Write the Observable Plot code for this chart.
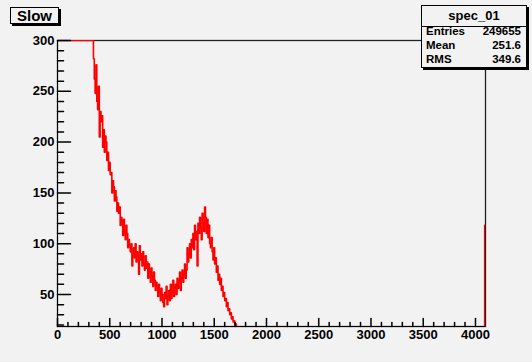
<!DOCTYPE html>
<html>
<head>
<meta charset="utf-8">
<script src="https://cdn.jsdelivr.net/npm/d3@7"></script>
<script src="https://cdn.jsdelivr.net/npm/@observablehq/plot@0.6"></script>
<style>
  html, body { margin: 0; padding: 0; background: #f2f2f2; }
  #canvas {
    position: relative; width: 532px; height: 362px; overflow: hidden;
    font-family: "Liberation Sans", Arial, Helvetica, sans-serif; font-weight: bold;
  }
  #canvas svg { position: absolute; left: 0; top: 0; }
  .pave {
    position: absolute; box-sizing: border-box; background: #f2f2f2;
    border: 1px solid #000; box-shadow: 2px 2px 0 #000; color: #000;
  }
  #title { left: 10px; top: 7px; width: 49px; height: 17px;
    font-size: 15px; line-height: 15px; text-align: center; }
  #stats { left: 421px; top: 5px; width: 106px; height: 63px; }
  #stats .head { position: absolute; left: 0; right: 0; top: 0; height: 20px;
    border-bottom: 1px solid #000; font-size: 13px; line-height: 19px; text-align: center; }
  #stats .row { position: absolute; left: 4px; right: 5px; height: 14px;
    font-size: 11.5px; line-height: 14px; }
  #stats .row span:last-child { position: absolute; right: 0; }
</style>
</head>
<body>
<div id="canvas">
  <div class="pave" id="title">Slow</div>
  <div class="pave" id="stats">
    <div class="head">spec_01</div>
    <div class="row" style="top:18px"><span>Entries</span><span>249655</span></div>
    <div class="row" style="top:31.5px"><span>Mean</span><span>251.6</span></div>
    <div class="row" style="top:46px"><span>RMS</span><span>349.6</span></div>
  </div>
</div>
<script>
// Histogram spec_01: 8-channel bins over 0..4096
const binWidth = 8;

// Bins 0..336: counts above the displayed range
const headStart = 0;
const headCounts = [
  9800, 11200, 10400, 9700, 9100, 8600, 8200, 7800, 7400, 7000,
  6700, 6400, 6100, 5800, 5500, 5200, 4900, 4600, 4300, 4000,
  3700, 3400, 3100, 2800, 2500, 2250, 2000, 1780, 1570, 1380,
  1200, 1040, 900, 780, 680, 600, 530, 470, 420, 380, 350, 320
];

// Bins 336..1768: falling edge, valley and the peak near 1400
const peakStart = 336;
const peakCounts = [
  305, 282, 262, 248, 276, 240, 232, 255, 205, 230,
  220, 226, 195, 212, 190, 206, 200, 182, 190, 172,
  180, 168, 170, 150, 162, 156, 142, 152, 146, 132,
  140, 130, 136, 118, 126, 122, 108, 124, 112, 104,
  118, 110, 96, 104, 98, 92, 100, 78, 90, 96,
  86, 100, 82, 92, 88, 70, 98, 84, 90, 78,
  92, 80, 74, 88, 76, 82, 66, 80, 72, 62,
  76, 68, 58, 72, 64, 54, 62, 58, 48, 60,
  52, 44, 56, 50, 42, 38, 52, 46, 58, 40,
  48, 54, 44, 60, 46, 52, 64, 48, 56, 60,
  50, 66, 56, 62, 72, 54, 66, 74, 62, 70,
  80, 66, 74, 96, 82, 90, 100, 86, 104, 96,
  110, 94, 118, 104, 112, 78, 120, 110, 126, 116,
  104, 130, 120, 112, 136, 126, 110, 124, 106, 118,
  100, 96, 106, 92, 84, 96, 80, 86, 72, 78,
  64, 70, 60, 66, 54, 58, 48, 52, 44, 46,
  38, 42, 34, 36, 30, 32, 26, 28, 23, 24,
  20, 21, 18, 17, 15, 14, 13, 11, 10
];

// Flat tail up to the last channel, then the last channel itself
const tailRange = [1768, 4088];
const tailCount = 3;
const lastRange = [4088, 4096];
const lastCount = 118;

// Axis ranges and ticks
const xRange = [0, 4096];
const yRange = [18.5, 300];
const xTickLabels = [0, 500, 1000, 1500, 2000, 2500, 3000, 3500, 4000];
const xMinorTicks = d3.range(0, 4001, 100).filter(v => v % 500 !== 0);
const yTickLabels = [50, 100, 150, 200, 250, 300];
const yMinorTicks = d3.range(20, 300, 10).filter(v => v % 50 !== 0);

// Step outline: each bin contributes its left and right edge at its count
const bins = [];
headCounts.forEach((c, i) => bins.push([headStart + i * binWidth, headStart + (i + 1) * binWidth, c]));
peakCounts.forEach((c, i) => bins.push([peakStart + i * binWidth, peakStart + (i + 1) * binWidth, c]));
bins.push([tailRange[0], tailRange[1], tailCount]);
bins.push([lastRange[0], lastRange[1], lastCount]);
const outline = bins.flatMap(([x0, x1, c]) => [{x: x0, count: c}, {x: x1, count: c}]);

const tickShape = {draw(context, l) { context.moveTo(0, 0); context.lineTo(0, -l); }};

const chart = Plot.plot({
  width: 532,
  height: 362,
  marginLeft: 57,
  marginRight: 47,
  marginTop: 40,
  marginBottom: 36,
  style: {background: "transparent", fontSize: "13px", fontWeight: "bold",
          fontFamily: "'Liberation Sans', Arial, Helvetica, sans-serif", color: "#000"},
  x: {domain: xRange},
  y: {domain: yRange},
  marks: [
    Plot.frame({stroke: "#222", strokeWidth: 1.3}),
    Plot.line(outline, {x: "x", y: d => Math.min(d.count, yRange[1]),
      stroke: "#ff0000", strokeWidth: 1.6, clip: true}),
    Plot.ruleX([xRange[0]], {stroke: "#000"}),
    Plot.ruleY([yRange[0]], {stroke: "#000"}),
    Plot.vector(yTickLabels, {y: d => d, frameAnchor: "left", length: 13, rotate: 90,
      anchor: "start", shape: tickShape, stroke: "#000"}),
    Plot.vector(yMinorTicks, {y: d => d, frameAnchor: "left", length: 6, rotate: 90,
      anchor: "start", shape: tickShape, stroke: "#000"}),
    Plot.vector(xTickLabels, {x: d => d, frameAnchor: "bottom", length: 8,
      anchor: "start", shape: tickShape, stroke: "#000"}),
    Plot.vector(xMinorTicks, {x: d => d, frameAnchor: "bottom", length: 4,
      anchor: "start", shape: tickShape, stroke: "#000"}),
    Plot.axisX(xTickLabels, {tickSize: 0, tickPadding: 3, tickFormat: "d", label: null}),
    Plot.axisY(yTickLabels, {tickSize: 0, tickPadding: 3, tickFormat: "d", label: null})
  ]
});
document.getElementById("canvas").prepend(chart);
</script>
</body>
</html>
